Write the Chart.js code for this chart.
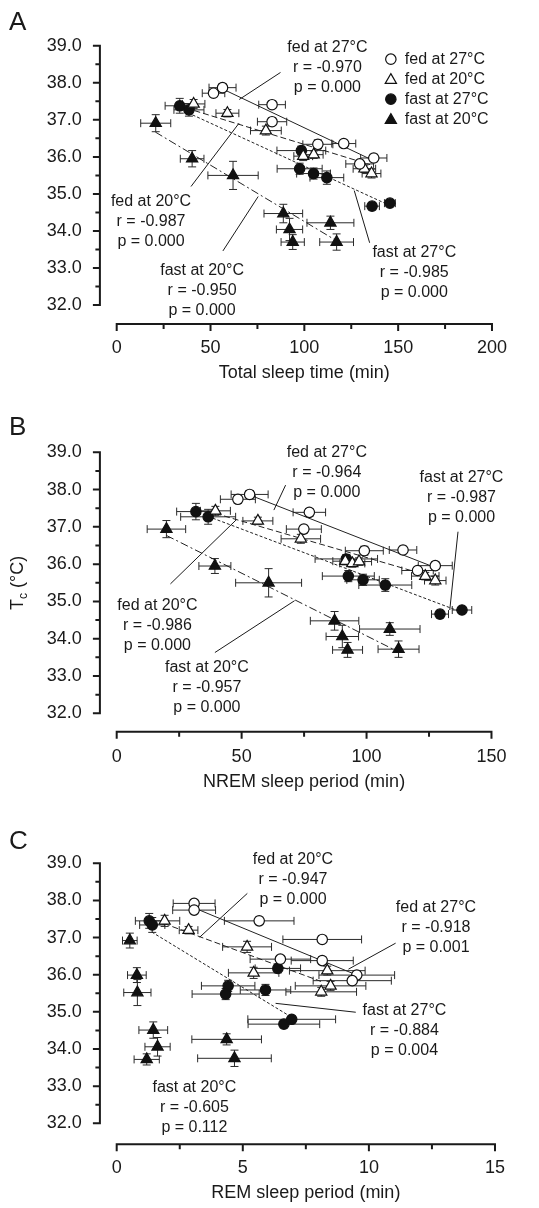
<!DOCTYPE html>
<html>
<head>
<meta charset="utf-8">
<script src="https://cdn.jsdelivr.net/npm/chart.js@4.4.1/dist/chart.umd.min.js"></script>
<style>
html,body{margin:0;padding:0;background:#fff;width:539px;height:1208px;overflow:hidden;}
.panel{position:absolute;left:0;width:539px;}
canvas{display:block;}
</style>
</head>
<body>
<div class="panel" style="top:0px;height:389px"><canvas id="cA" width="539" height="389"></canvas></div>
<div class="panel" style="top:400px;height:398px"><canvas id="cB" width="539" height="398"></canvas></div>
<div class="panel" style="top:797px;height:411px"><canvas id="cC" width="539" height="411"></canvas></div>
<script>
// ---------- DATA ----------
const GROUP_NAMES = ['fed at 27°C', 'fed at 20°C', 'fast at 27°C', 'fast at 20°C'];
const Y_MIN = 32, Y_MAX = 39, Y_STEP = 0.5;

// Panel A : Total sleep time (min)
const A_fed27_x  = [51.6, 56.4, 82.8, 82.8, 107.2, 121.0, 129.5, 137.0];
const A_fed27_y  = [37.72, 37.87, 37.41, 36.95, 36.34, 36.36, 35.81, 35.97];
const A_fed27_xe = [6.0, 7.2, 7.1, 7.8, 8.0, 6.4, 7.4, 7.0];
const A_fed27_ye = [0.08, 0.1, 0.1, 0.1, 0.12, 0.08, 0.08, 0.1];
const A_fed20_x  = [41.0, 59.0, 79.5, 99.4, 105.0, 132.0, 135.8];
const A_fed20_y  = [37.43, 37.18, 36.71, 36.02, 36.06, 35.68, 35.55];
const A_fed20_xe = [6.0, 6.1, 8.2, 5.0, 5.0, 6.0, 5.0];
const A_fed20_ye = [0.12, 0.1, 0.12, 0.12, 0.1, 0.1, 0.12];
const A_fast27_x  = [33.6, 38.5, 98.4, 97.5, 104.9, 112.0, 136.1, 145.6];
const A_fast27_y  = [37.38, 37.27, 36.17, 35.68, 35.55, 35.44, 34.67, 34.75];
const A_fast27_xe = [7.8, 8.0, 13.0, 12.0, 9.0, 9.0, 3.9, 2.9];
const A_fast27_ye = [0.2, 0.17, 0.12, 0.15, 0.15, 0.18, 0.1, 0.07];
const A_fast20_x  = [20.8, 40.2, 62.0, 88.8, 92.1, 93.8, 113.9, 117.2];
const A_fast20_y  = [36.91, 35.95, 35.50, 34.47, 34.04, 33.70, 34.22, 33.70];
const A_fast20_xe = [8.0, 6.3, 13.4, 10.3, 7.0, 6.2, 12.5, 9.0];
const A_fast20_ye = [0.23, 0.22, 0.38, 0.25, 0.3, 0.2, 0.18, 0.22];
const A_fits = [[56.6, 37.83, 136.8, 35.90], [41.4, 37.25, 135.0, 35.79], [38.0, 37.19, 145.0, 34.70], [20.6, 36.67, 117.3, 33.73]];
const A_notes = [
  {text: ['fed at 27°C', 'r = -0.970', 'p = 0.000'], at: [112.3, 38.95], leader: [87.3, 38.28, 65.3, 37.55]},
  {text: ['fed at 20°C', 'r = -0.987', 'p = 0.000'], at: [18.3, 34.80], leader: [39.6, 35.20, 65.2, 36.91]},
  {text: ['fast at 20°C', 'r = -0.950', 'p = 0.000'], at: [45.5, 32.94], leader: [56.6, 33.46, 75.4, 34.93]},
  {text: ['fast at 27°C', 'r = -0.985', 'p = 0.000'], at: [158.6, 33.41], leader: [134.8, 33.68, 126.6, 35.09]}
];

// Panel B : NREM sleep period (min)
const B_fed27_x  = [48.5, 53.2, 77.1, 74.9, 99.1, 114.6, 120.4, 127.5];
const B_fed27_y  = [37.74, 37.87, 37.39, 36.94, 36.36, 36.38, 35.83, 35.96];
const B_fed27_xe = [7.0, 7.4, 6.5, 7.0, 7.6, 5.5, 6.3, 6.8];
const B_fed27_ye = [0.1, 0.1, 0.1, 0.1, 0.12, 0.1, 0.08, 0.1];
const B_fed20_x  = [39.5, 56.5, 73.7, 91.5, 94.3, 97.0, 123.5, 127.5];
const B_fed20_y  = [37.43, 37.16, 36.68, 36.08, 36.02, 36.07, 35.68, 35.56];
const B_fed20_xe = [6.0, 6.0, 7.9, 5.0, 5.0, 5.0, 5.5, 4.3];
const B_fed20_ye = [0.12, 0.1, 0.12, 0.1, 0.1, 0.1, 0.1, 0.12];
const B_fast27_x  = [31.7, 36.6, 91.9, 92.7, 98.6, 107.5, 129.4, 138.2];
const B_fast27_y  = [37.41, 37.27, 36.14, 35.68, 35.58, 35.44, 34.66, 34.77];
const B_fast27_xe = [7.7, 11.0, 12.5, 10.4, 6.5, 10.6, 3.4, 3.9];
const B_fast27_ye = [0.22, 0.2, 0.12, 0.15, 0.15, 0.17, 0.1, 0.08];
const B_fast20_x  = [19.9, 39.3, 60.8, 87.2, 90.3, 92.4, 109.3, 112.8];
const B_fast20_y  = [36.94, 35.95, 35.50, 34.48, 34.06, 33.70, 34.26, 33.72];
const B_fast20_xe = [7.7, 6.4, 13.2, 9.7, 6.5, 6.0, 12.1, 8.2];
const B_fast20_ye = [0.23, 0.2, 0.38, 0.25, 0.3, 0.2, 0.17, 0.22];
const B_fits = [[53.4, 37.85, 127.8, 35.90], [39.5, 37.36, 127.5, 35.64], [36.6, 37.28, 138.2, 34.71], [19.9, 36.77, 112.4, 33.66]];
const B_notes = [
  {text: ['fed at 27°C', 'r = -0.964', 'p = 0.000'], at: [84.1, 38.99], leader: [67.6, 38.12, 62.9, 37.45]},
  {text: ['fast at 27°C', 'r = -0.987', 'p = 0.000'], at: [138.0, 38.33], leader: [136.6, 36.87, 133.3, 34.77]},
  {text: ['fed at 20°C', 'r = -0.986', 'p = 0.000'], at: [16.3, 34.89], leader: [21.5, 35.47, 47.7, 37.18]},
  {text: ['fast at 20°C', 'r = -0.957', 'p = 0.000'], at: [36.1, 33.22], leader: [39.3, 33.63, 71.2, 35.02]}
];

// Panel C : REM sleep period (min)
const C_fed27_x  = [3.07, 3.07, 5.65, 8.15, 6.49, 8.15, 9.52, 9.34];
const C_fed27_y  = [37.92, 37.74, 37.45, 36.95, 36.42, 36.38, 35.99, 35.84];
const C_fed27_xe = [0.83, 0.85, 1.38, 1.56, 1.2, 1.23, 1.5, 1.55];
const C_fed27_ye = [0.08, 0.08, 0.1, 0.08, 0.08, 0.1, 0.08, 0.08];
const C_fed20_x  = [1.90, 2.85, 5.17, 5.43, 8.35, 8.48, 8.11];
const C_fed20_y  = [37.45, 37.20, 36.75, 36.05, 36.11, 35.70, 35.54];
const C_fed20_xe = [0.6, 0.37, 0.97, 1.0, 1.5, 1.4, 1.4];
const C_fed20_ye = [0.15, 0.1, 0.15, 0.15, 0.12, 0.12, 0.12];
const C_fast27_x  = [1.29, 1.41, 6.39, 4.42, 4.32, 5.90, 6.63, 6.94];
const C_fast27_y  = [37.45, 37.34, 36.17, 35.70, 35.48, 35.59, 34.67, 34.80];
const C_fast27_xe = [0.55, 0.5, 0.9, 1.06, 1.33, 1.0, 1.42, 1.74];
const C_fast27_ye = [0.2, 0.2, 0.12, 0.15, 0.15, 0.15, 0.1, 0.08];
const C_fast20_x  = [0.52, 0.80, 0.82, 1.45, 1.62, 1.19, 4.36, 4.67];
const C_fast20_y  = [36.92, 35.99, 35.52, 34.51, 34.06, 33.72, 34.26, 33.75];
const C_fast20_xe = [0.29, 0.37, 0.54, 0.57, 0.5, 0.5, 1.38, 1.46];
const C_fast20_ye = [0.2, 0.2, 0.35, 0.22, 0.25, 0.15, 0.15, 0.22];
const C_fits = [[3.07, 37.80, 9.52, 35.99], [1.87, 37.38, 8.10, 35.82], [1.39, 37.15, 6.90, 34.87], null];
const C_notes = [
  {text: ['fed at 20°C', 'r = -0.947', 'p = 0.000'], at: [6.99, 39.09], leader: [5.18, 38.19, 3.29, 37.01]},
  {text: ['fed at 27°C', 'r = -0.918', 'p = 0.001'], at: [12.66, 37.82], leader: [11.06, 36.85, 9.19, 36.15]},
  {text: ['fast at 27°C', 'r = -0.884', 'p = 0.004'], at: [11.41, 35.03], leader: [9.48, 34.99, 6.30, 35.23]},
  {text: ['fast at 20°C', 'r = -0.605', 'p = 0.112'], at: [3.08, 32.97], leader: null}
];

// ---------- STYLE ----------
const FONT = '"Liberation Sans", Arial, Helvetica, sans-serif';
const INK = '#1a1a1a';
const MARKERS = [
  {style: 'circle', r: 5.2, fill: '#ffffff'},
  {style: 'triangle', r: 6.5, fill: '#ffffff'},
  {style: 'circle', r: 5.2, fill: '#111111'},
  {style: 'triangle', r: 6.5, fill: '#111111'}
];
const FIT_DASH = [[], [6, 3], [3, 2], [8, 3, 2, 3]];
const CAP = 4;

Chart.defaults.font.family = FONT;
Chart.defaults.color = INK;

function grp(x, y, xe, ye) { return {x, y, xe, ye}; }

const PANELS = [
  {canvas: 'cA', letter: 'A', H: 389, areaTop: 45, areaBottom: 305, xMax: 200, xStep: 25, xMajor: 50,
   xTitle: 'Total sleep time (min)', axisGap: 19, labelPad: 32, titlePad: 5, letterY: 23, yTitle: false,
   groups: [grp(A_fed27_x, A_fed27_y, A_fed27_xe, A_fed27_ye), grp(A_fed20_x, A_fed20_y, A_fed20_xe, A_fed20_ye),
            grp(A_fast27_x, A_fast27_y, A_fast27_xe, A_fast27_ye), grp(A_fast20_x, A_fast20_y, A_fast20_xe, A_fast20_ye)],
   fits: A_fits, notes: A_notes, legend: {x: 146.1, y: 38.64}},
  {canvas: 'cB', letter: 'B', H: 398, areaTop: 52.3, areaBottom: 313.3, xMax: 150, xStep: 25, xMajor: 50,
   xTitle: 'NREM sleep period (min)', axisGap: 18.4, labelPad: 32.5, titlePad: 5, letterY: 28.3, yTitle: true,
   groups: [grp(B_fed27_x, B_fed27_y, B_fed27_xe, B_fed27_ye), grp(B_fed20_x, B_fed20_y, B_fed20_xe, B_fed20_ye),
            grp(B_fast27_x, B_fast27_y, B_fast27_xe, B_fast27_ye), grp(B_fast20_x, B_fast20_y, B_fast20_xe, B_fast20_ye)],
   fits: B_fits, notes: B_notes, legend: null},
  {canvas: 'cC', letter: 'C', H: 411, areaTop: 66.3, areaBottom: 326.3, xMax: 15, xStep: 2.5, xMajor: 5,
   xTitle: 'REM sleep period (min)', axisGap: 21, labelPad: 34, titlePad: 4, letterY: 44.7, yTitle: false,
   groups: [grp(C_fed27_x, C_fed27_y, C_fed27_xe, C_fed27_ye), grp(C_fed20_x, C_fed20_y, C_fed20_xe, C_fed20_ye),
            grp(C_fast27_x, C_fast27_y, C_fast27_xe, C_fast27_ye), grp(C_fast20_x, C_fast20_y, C_fast20_xe, C_fast20_ye)],
   fits: C_fits, notes: C_notes, legend: null}
];

const AREA_LEFT = 116.7, AREA_RIGHT = 523.4, Y_AXIS_OFFSET = 16.8;

function drawMarker(ctx, m, x, y) {
  ctx.save();
  ctx.fillStyle = m.fill; ctx.strokeStyle = '#111'; ctx.lineWidth = 1.2;
  if (Chart.helpers && Chart.helpers.drawPoint) {
    Chart.helpers.drawPoint(ctx, {pointStyle: m.style, radius: m.r, borderWidth: 1.2, rotation: 0}, x, y);
  } else {
    ctx.beginPath();
    if (m.style === 'circle') ctx.arc(x, y, m.r, 0, Math.PI * 2);
    else { ctx.moveTo(x, y - m.r); ctx.lineTo(x + m.r * 0.866, y + m.r / 2); ctx.lineTo(x - m.r * 0.866, y + m.r / 2); ctx.closePath(); }
    ctx.fill(); ctx.stroke();
  }
  ctx.restore();
}

function isMultiple(v, step) { const q = v / step; return Math.abs(q - Math.round(q)) < 1e-6; }

function decoPlugin(P) {
  return {
    id: 'deco' + P.letter,
    beforeDatasetsDraw(chart) {
      const ctx = chart.ctx, xs = chart.scales.x, ys = chart.scales.y;
      ctx.save();
      ctx.strokeStyle = '#2a2a2a'; ctx.lineWidth = 1;
      P.groups.forEach(g => {
        g.x.forEach((xv, k) => {
          const yv = g.y[k];
          const cx = xs.getPixelForValue(xv), cy = ys.getPixelForValue(yv);
          const xl = xs.getPixelForValue(xv - g.xe[k]), xr = xs.getPixelForValue(xv + g.xe[k]);
          const yt = ys.getPixelForValue(yv + g.ye[k]), yb = ys.getPixelForValue(yv - g.ye[k]);
          ctx.beginPath();
          ctx.moveTo(xl, cy); ctx.lineTo(xr, cy);
          ctx.moveTo(xl, cy - CAP); ctx.lineTo(xl, cy + CAP);
          ctx.moveTo(xr, cy - CAP); ctx.lineTo(xr, cy + CAP);
          ctx.moveTo(cx, yt); ctx.lineTo(cx, yb);
          ctx.moveTo(cx - CAP, yt); ctx.lineTo(cx + CAP, yt);
          ctx.moveTo(cx - CAP, yb); ctx.lineTo(cx + CAP, yb);
          ctx.stroke();
        });
      });
      ctx.restore();
    },
    afterDraw(chart) {
      const ctx = chart.ctx, xs = chart.scales.x, ys = chart.scales.y, ca = chart.chartArea;
      ctx.save();
      // detached axes
      ctx.strokeStyle = INK; ctx.lineWidth = 2; ctx.lineCap = 'square';
      const ax = ca.left - Y_AXIS_OFFSET;
      ctx.beginPath();
      ctx.moveTo(ax, ys.getPixelForValue(ys.min)); ctx.lineTo(ax, ys.getPixelForValue(ys.max));
      ys.ticks.forEach(t => {
        const y = ys.getPixelForValue(t.value);
        const len = isMultiple(t.value, 1) ? 6 : 3.5;
        ctx.moveTo(ax - len, y); ctx.lineTo(ax, y);
      });
      const ay = ca.bottom + P.axisGap;
      ctx.moveTo(xs.getPixelForValue(xs.min), ay); ctx.lineTo(xs.getPixelForValue(xs.max), ay);
      xs.ticks.forEach(t => {
        const x = xs.getPixelForValue(t.value);
        const len = isMultiple(t.value, P.xMajor) ? 6 : 4;
        ctx.moveTo(x, ay); ctx.lineTo(x, ay + len);
      });
      ctx.stroke();

      // annotations
      ctx.lineCap = 'butt';
      ctx.fillStyle = INK; ctx.strokeStyle = INK; ctx.lineWidth = 1;
      ctx.font = '16px ' + FONT; ctx.textAlign = 'center'; ctx.textBaseline = 'middle';
      P.notes.forEach(n => {
        const x = xs.getPixelForValue(n.at[0]), y = ys.getPixelForValue(n.at[1]);
        n.text.forEach((t, i) => ctx.fillText(t, x, y + i * 20));
        if (n.leader) {
          ctx.beginPath();
          ctx.moveTo(xs.getPixelForValue(n.leader[0]), ys.getPixelForValue(n.leader[1]));
          ctx.lineTo(xs.getPixelForValue(n.leader[2]), ys.getPixelForValue(n.leader[3]));
          ctx.stroke();
        }
      });

      // legend
      if (P.legend) {
        const lx = xs.getPixelForValue(P.legend.x), ly = ys.getPixelForValue(P.legend.y);
        ctx.textAlign = 'left'; ctx.textBaseline = 'middle'; ctx.font = '16px ' + FONT;
        GROUP_NAMES.forEach((name, i) => {
          const y = ly + i * 20;
          drawMarker(ctx, MARKERS[i], lx, i % 2 === 1 ? y + 1 : y);
          ctx.fillStyle = INK;
          ctx.fillText(name, lx + 14, y);
        });
      }

      // panel letter
      ctx.fillStyle = INK; ctx.font = '26px ' + FONT; ctx.textAlign = 'left'; ctx.textBaseline = 'middle';
      ctx.fillText(P.letter, 9, P.letterY);

      // y-axis title with subscript
      if (P.yTitle) {
        ctx.save();
        ctx.translate(18, ys.getPixelForValue((Y_MIN + Y_MAX) / 2));
        ctx.rotate(-Math.PI / 2);
        const big = '18px ' + FONT, small = '12px ' + FONT;
        ctx.font = big; const wT = ctx.measureText('T').width; const wR = ctx.measureText(' (°C)').width;
        ctx.font = small; const wc = ctx.measureText('c').width;
        let x0 = -(wT + wc + wR) / 2;
        ctx.textAlign = 'left'; ctx.textBaseline = 'alphabetic';
        const base = 5.3;
        ctx.font = big; ctx.fillText('T', x0, base); x0 += wT;
        ctx.font = small; ctx.fillText('c', x0, base + 4); x0 += wc;
        ctx.font = big; ctx.fillText(' (°C)', x0, base);
        ctx.restore();
      }
      ctx.restore();
    }
  };
}

function buildPanel(P) {
  const datasets = [];
  P.groups.forEach((g, i) => {
    const m = MARKERS[i];
    datasets.push({
      label: GROUP_NAMES[i],
      data: g.x.map((v, k) => ({x: v, y: g.y[k]})),
      showLine: false,
      pointStyle: m.style, pointRadius: m.r, pointHoverRadius: m.r,
      pointBackgroundColor: m.fill, pointBorderColor: '#111', pointBorderWidth: 1.2,
      clip: false
    });
  });
  P.fits.forEach((f, i) => {
    if (!f) return;
    datasets.push({
      label: GROUP_NAMES[i] + ' fit',
      data: [{x: f[0], y: f[1]}, {x: f[2], y: f[3]}],
      showLine: true, borderColor: '#222', borderWidth: 1, borderDash: FIT_DASH[i],
      pointRadius: 0, pointHoverRadius: 0, fill: false, tension: 0, clip: false
    });
  });
  return new Chart(document.getElementById(P.canvas), {
    type: 'scatter',
    data: {datasets},
    options: {
      responsive: false, animation: false, events: [],
      layout: {padding: {top: P.areaTop, left: 0, right: 539 - AREA_RIGHT, bottom: 0}},
      plugins: {legend: {display: false}, tooltip: {enabled: false}, title: {display: false}},
      scales: {
        x: {
          type: 'linear', position: 'bottom', min: 0, max: P.xMax,
          grid: {display: false, drawTicks: false, tickLength: 0},
          border: {display: false},
          ticks: {stepSize: P.xStep, autoSkip: false, maxRotation: 0, minRotation: 0, padding: P.labelPad,
                  font: {size: 18, family: FONT}, color: INK,
                  callback: v => isMultiple(v, P.xMajor) ? String(v) : ''},
          title: {display: true, text: P.xTitle, font: {size: 18, family: FONT}, color: INK,
                  padding: {top: 0, bottom: P.titlePad}},
          afterFit: s => { s.height = P.H - P.areaBottom; }
        },
        y: {
          type: 'linear', position: 'left', min: Y_MIN, max: Y_MAX,
          grid: {display: false, drawTicks: false, tickLength: 0},
          border: {display: false},
          ticks: {stepSize: Y_STEP, autoSkip: false, padding: 35, font: {size: 18, family: FONT}, color: INK,
                  callback: v => isMultiple(v, 1) ? Number(v).toFixed(1) : ''},
          afterFit: s => { s.width = AREA_LEFT; }
        }
      }
    },
    plugins: [decoPlugin(P)]
  });
}

PANELS.forEach(buildPanel);
</script>
</body>
</html>
